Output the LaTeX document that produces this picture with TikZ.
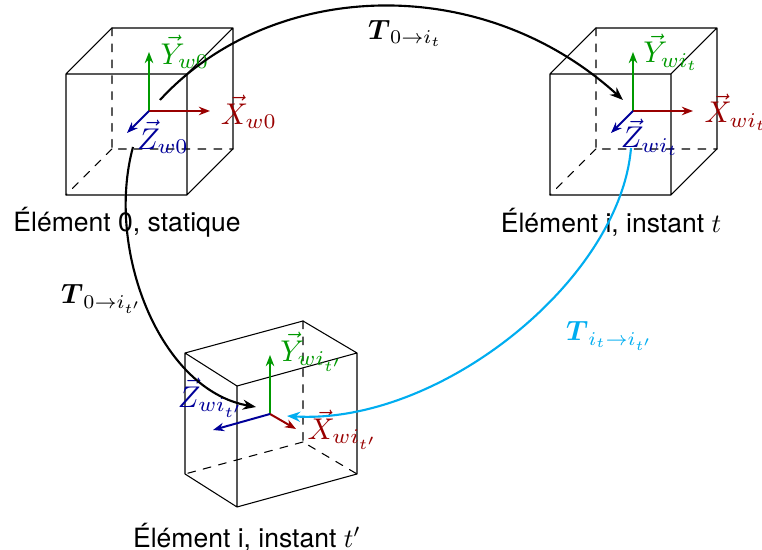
\documentclass[tikz,border=0pt]{standalone}
\usepackage{amsmath}
\usepackage{fontspec}
\usetikzlibrary{arrows.meta}
\setmainfont{TeX Gyre Heros}
\definecolor{axisx}{rgb}{0.6,0,0}
\definecolor{axisy}{rgb}{0,0.6,0}
\definecolor{axisz}{rgb}{0,0,0.6}
\definecolor{relcolor}{rgb}{0,0.68,0.94}
\tikzset{
  axisline/.style={-{Stealth[length=4.2pt,width=3.2pt]},line width=0.75pt,line cap=butt},
  arcline/.style={-{Stealth[length=5pt,width=3.8pt]},thick,line cap=butt},
  tag/.style={inner sep=0pt},
  axistag/.style={inner sep=0pt,scale=1.13},
  arctag/.style={inner sep=0pt,scale=1.05},
}
\begin{document}
\begin{tikzpicture}[x=0.377pt,y=-0.377pt,line join=round,line cap=round]
	\useasboundingbox (0,0) rectangle (762,550);
	% cube 0
	\coordinate (A0) at (66,74);
	\coordinate (B0) at (187,74);
	\coordinate (C0) at (187,195);
	\coordinate (D0) at (66,195);
	\coordinate (E0) at (112,28);
	\coordinate (F0) at (233,28);
	\coordinate (G0) at (233,149);
	\coordinate (H0) at (112,149);
	\coordinate (O0) at (149,111);
	\draw (A0)--(B0)--(C0)--(D0)--cycle (A0)--(E0)--(F0)--(G0)--(C0) (B0)--(F0);
	\draw[dashed] (E0)--(H0)--(G0) (H0)--(D0);
	\draw[axisline,axisy] (O0)--(149,52);
	\draw[axisline,axisx] (O0)--(210,111);
	\draw[axisline,axisz] (O0)--(127,133);
	\node[axistag,text=axisy] (Y0) at (185,52) {$\vec{Y}_{w0}$};
	\node[axistag,text=axisx] (X0) at (249,112) {$\vec{X}_{w0}$};
	\node[axistag,text=axisz] (Z0) at (163,137) {$\vec{Z}_{w0}$};
	\node[tag] (L0) at (127,222) {Élément 0, statique};
	% cube i, t
	\coordinate (A1) at (550,74);
	\coordinate (B1) at (671,74);
	\coordinate (C1) at (671,195);
	\coordinate (D1) at (550,195);
	\coordinate (E1) at (596,28);
	\coordinate (F1) at (717,28);
	\coordinate (G1) at (717,149);
	\coordinate (H1) at (596,149);
	\coordinate (O1) at (633,111);
	\draw (A1)--(B1)--(C1)--(D1)--cycle (A1)--(E1)--(F1)--(G1)--(C1) (B1)--(F1);
	\draw[dashed] (E1)--(H1)--(G1) (H1)--(D1);
	\draw[axisline,axisy] (O1)--(633,52);
	\draw[axisline,axisx] (O1)--(693,111);
	\draw[axisline,axisz] (O1)--(611,133);
	\node[axistag,text=axisy] (Y1) at (671,52) {$\vec{Y}_{wi_t}$};
	\node[axistag,text=axisx] (X1) at (736,112) {$\vec{X}_{wi_t}$};
	\node[axistag,text=axisz] (Z1) at (650,137) {$\vec{Z}_{wi_t}$};
	\node[tag] (L1) at (611,222) {Élément i, instant $t$};
	% cube i, t'
	\coordinate (A2) at (185,353);
	\coordinate (B2) at (237,386);
	\coordinate (C2) at (237,507);
	\coordinate (D2) at (185,474);
	\coordinate (E2) at (303,321);
	\coordinate (F2) at (357,353);
	\coordinate (G2) at (357,474);
	\coordinate (H2) at (303,442);
	\coordinate (O2) at (270,414);
	\draw (A2)--(B2)--(C2)--(D2)--cycle (A2)--(E2)--(F2)--(G2)--(C2) (B2)--(F2);
	\draw[dashed] (E2)--(H2)--(G2) (H2)--(D2);
	\draw[axisline,axisy] (O2)--(270,355);
	\draw[axisline,axisx] (O2)--(296,429);
	\draw[axisline,axisz] (O2)--(213,430);
	\node[axistag,text=axisy] (Y2) at (312,352) {$\vec{Y}_{wi_{t'}}$};
	\node[axistag,text=axisx] (X2) at (343,430) {$\vec{X}_{wi_{t'}}$};
	\node[axistag,text=axisz] (Z2) at (211,398) {$\vec{Z}_{wi_{t'}}$};
	\node[tag] (L2) at (247,537) {Élément i, instant $t'$};
	% transforms
	\coordinate (S0) at (160,100);
	\coordinate (S1) at (133,147);
	\coordinate (S2) at (631,148);
	\coordinate (T1) at (623,100);
	\coordinate (T2) at (256,407);
	\coordinate (T3) at (287,416);
	\draw[arcline] (S0) .. controls (270,-20) and (480,-30) .. (T1);
	\draw[arcline] (S1) .. controls (105,250) and (160,390) .. (T2);
	\draw[arcline,relcolor] (S2) .. controls (620,280) and (440,425) .. (T3);
	\node[arctag] (M0) at (405,33) {$\boldsymbol{T}_{0\to i_t}$};
	\node[arctag] (M1) at (102,299) {$\boldsymbol{T}_{0\to i_{t'}}$};
	\node[arctag,text=relcolor] (M2) at (610,336) {$\boldsymbol{T}_{i_t\to i_{t'}}$};
\end{tikzpicture}
\end{document}
